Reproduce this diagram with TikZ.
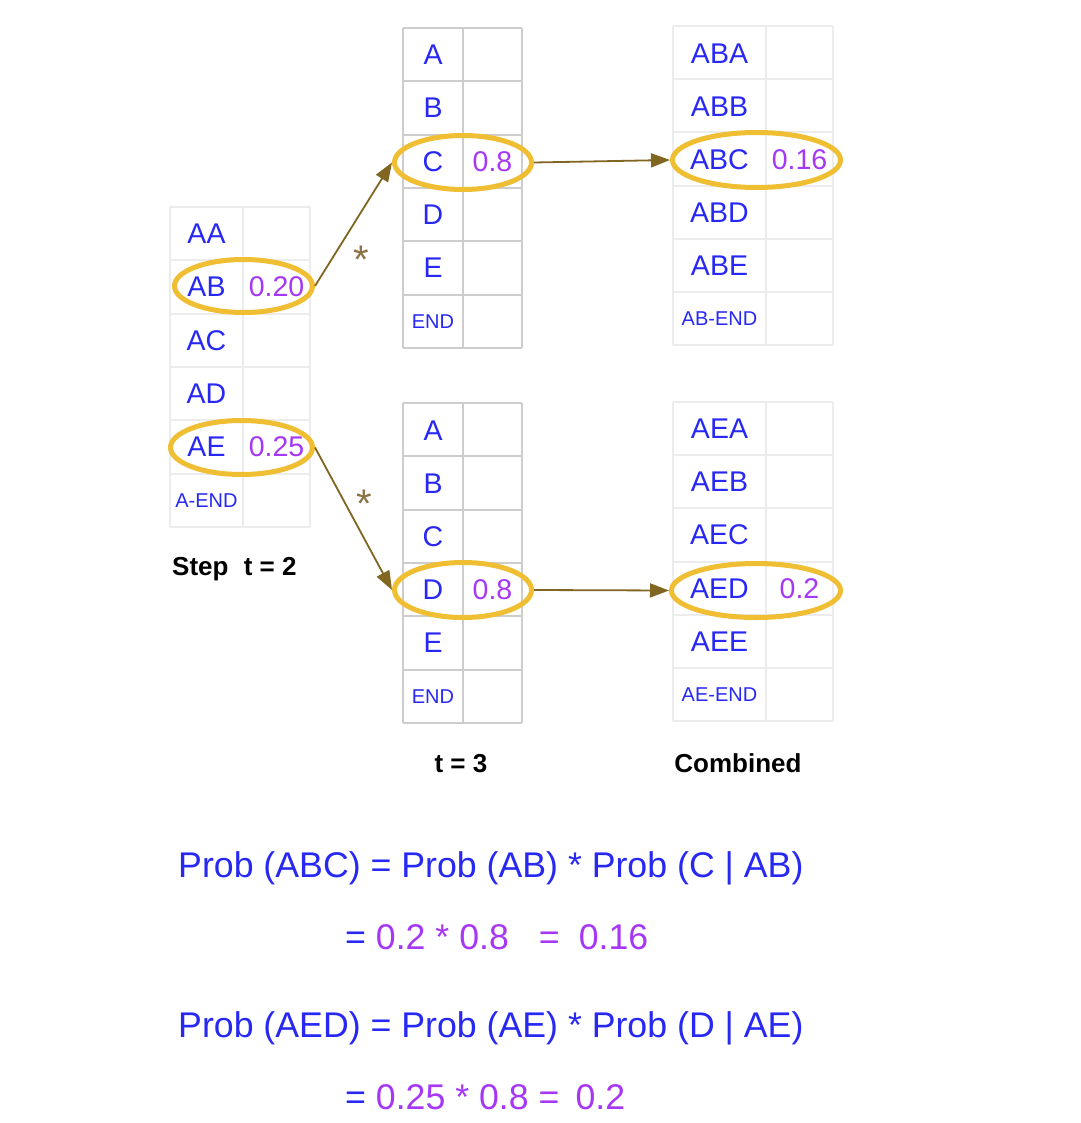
\documentclass[tikz,border=0pt]{standalone}
\usepackage{fontspec}
\setmainfont{Liberation Sans}
\usetikzlibrary{shapes.geometric,arrows.meta}
\definecolor{tblue}{RGB}{40,40,245}
\definecolor{tpurp}{RGB}{165,55,245}
\definecolor{gold}{RGB}{240,190,50}
\definecolor{arr}{RGB}{128,102,32}
\definecolor{starc}{RGB}{140,115,70}
\definecolor{gridA}{RGB}{205,205,205}
\definecolor{gridB}{RGB}{236,236,236}
\newcommand\mytbl[6]{%
  \foreach \k in {0,...,6}{\draw[#6] (#1,{#4+\k*#5}) -- (#3,{#4+\k*#5});}
  \draw[#6] (#1,#4) -- (#1,{#4+6*#5});
  \draw[#6] (#2,#4) -- (#2,{#4+6*#5});
  \draw[#6] (#3,#4) -- (#3,{#4+6*#5});
}
\tikzset{
  lab/.style={text=tblue, font=\fontsize{28.5}{30}\selectfont, inner sep=0pt},
  small/.style={text=tblue, font=\fontsize{20}{22}\selectfont, inner sep=0pt},
  val/.style={text=tpurp, font=\fontsize{28.5}{30}\selectfont, inner sep=0pt},
  ring/.style={draw=gold, line width=5pt, ellipse, inner sep=0pt},
  conn/.style={draw=arr, line width=1.8pt, -{Triangle[length=19pt,width=14pt]}},
  star/.style={text=starc, font=\fontsize{40}{40}\selectfont, inner sep=0pt, anchor=base},
  ttl/.style={font=\bfseries\fontsize{26}{28}\selectfont, text=black, inner sep=0pt},
  eq/.style={font=\fontsize{35.7}{40}\selectfont, inner sep=0pt, anchor=base west, text=tblue},
  gA/.style={draw=gridA, line width=2.2pt},
  gB/.style={draw=gridB, line width=2pt},
}
\begin{document}
\begin{tikzpicture}[x=1pt,y=-1pt]
\useasboundingbox[fill=white] (0,0) rectangle (1080,1123);
% grids
\mytbl{170}{243}{310}{207}{53.33}{gB}
\mytbl{403}{463}{522}{28}{53.33}{gA}
\mytbl{673}{766}{833}{26}{53.17}{gB}
\mytbl{403}{463}{522}{403}{53.33}{gA}
\mytbl{673}{766}{833}{402}{53.17}{gB}
% left table
\node[lab] (aa) at (206.5,233.7) {AA};
\node[lab] (ab) at (206.5,287) {AB};
\node[val] (vab) at (276.5,287) {0.20};
\node[lab] (ac) at (206.5,340.3) {AC};
\node[lab] (ad) at (206.5,393.7) {AD};
\node[lab] (ae) at (206.5,447) {AE};
\node[val] (vae) at (276.5,447) {0.25};
\node[small] (aend) at (206.5,500.3) {A-END};
% top t=3
\node[lab] (ta) at (433,54.7) {A};
\node[lab] (tb) at (433,108) {B};
\node[lab] (tc) at (433,161.3) {C};
\node[val] (vtc) at (492.5,161.3) {0.8};
\node[lab] (td) at (433,214.7) {D};
\node[lab] (te) at (433,268) {E};
\node[small] (tend) at (433,321.3) {END};
% top combined
\node[lab] (aba) at (719.5,53.6) {ABA};
\node[lab] (abb) at (719.5,106.3) {ABB};
\node[lab] (abc) at (719.5,159.5) {ABC};
\node[val] (vabc) at (799.5,159.5) {0.16};
\node[lab] (abd) at (719.5,212.6) {ABD};
\node[lab] (abe) at (719.5,265.8) {ABE};
\node[small] (abend) at (719.5,318.9) {AB-END};
% bottom t=3
\node[lab] (ba) at (433,430.2) {A};
\node[lab] (bb) at (433,483.5) {B};
\node[lab] (bc) at (433,536.8) {C};
\node[lab] (bd) at (433,589.7) {D};
\node[val] (vbd) at (492.5,589.7) {0.8};
\node[lab] (be) at (433,643) {E};
\node[small] (bend) at (433,696.3) {END};
% bottom combined
\node[lab] (aea) at (719.5,429) {AEA};
\node[lab] (aeb) at (719.5,481.8) {AEB};
\node[lab] (aec) at (719.5,534.9) {AEC};
\node[lab] (aed) at (719.5,588.6) {AED};
\node[val] (vaed) at (799.5,588.6) {0.2};
\node[lab] (aee) at (719.5,641.8) {AEE};
\node[small] (aeend) at (719.5,694.9) {AE-END};
% rings
\node[ring, minimum width=138pt, minimum height=53pt] (eAB) at (243.5,286) {};
\node[ring, minimum width=142pt, minimum height=54pt] (eAE) at (241.5,447.5) {};
\node[ring, minimum width=137pt, minimum height=54pt] (eC) at (463,162.5) {};
\node[ring, minimum width=168pt, minimum height=55pt] (eABC) at (756.5,160) {};
\node[ring, minimum width=137pt, minimum height=55pt] (eD) at (463,590) {};
\node[ring, minimum width=169pt, minimum height=54pt] (eAED) at (756,590.5) {};
% connectors
\draw[conn] (eAB.east) -- (eC.west);
\draw[conn] (eAE.east) -- (eD.west);
\draw[conn] (eC.east) -- (eABC.west);
\draw[conn] (eD.east) -- (eAED.west);
\node[star] (s1) at (361,273) {*};
\node[star] (s2) at (364,517) {*};
% titles
\node[ttl, anchor=base west] (st2) at (172,575) {Step\hspace{8pt} t = 2};
\node[ttl, anchor=base] (st3) at (461,772) {t = 3};
\node[ttl, anchor=base] (comb) at (738,772) {Combined};
% equations
\node[eq] (eq1) at (178,877.7) {Prob (ABC) = Prob (AB) * Prob (C | AB)};
\node[eq] (eq2) at (345,949) {= {\color{tpurp}0.2 * 0.8\hspace{30pt}=\hspace{19pt}0.16}};
\node[eq] (eq3) at (178,1037.7) {Prob (AED) = Prob (AE) * Prob (D | AE)};
\node[eq] (eq4) at (345,1109) {= {\color{tpurp}0.25 * 0.8 =\hspace{16pt}0.2}};
\end{tikzpicture}
\end{document}
